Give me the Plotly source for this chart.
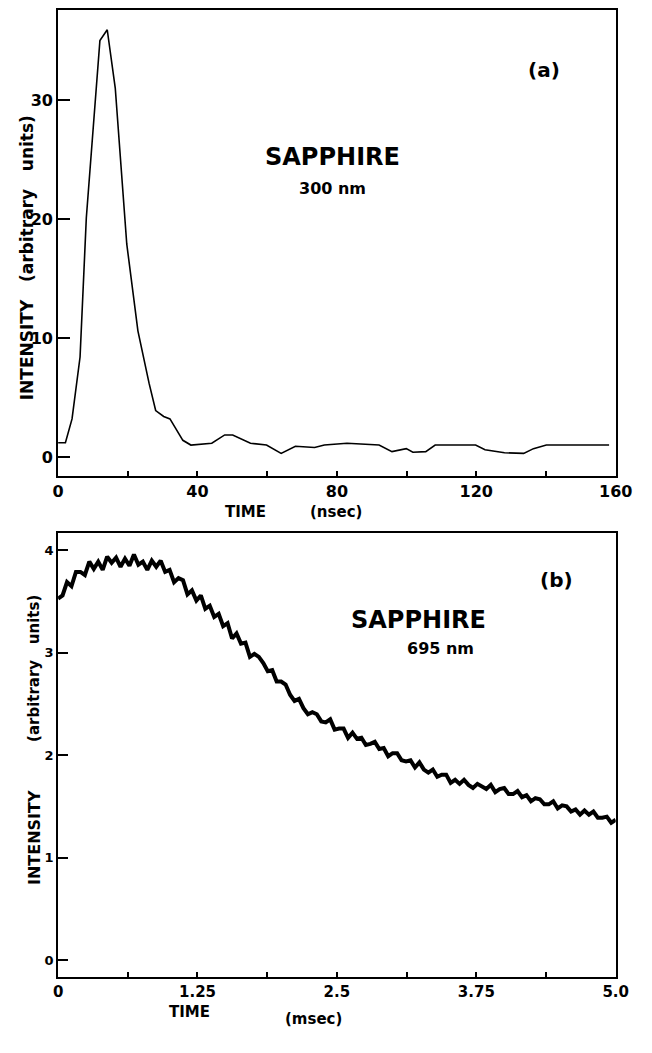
import plotly.graph_objects as go

# ---------------- data: panel (a) ----------------
time_ns = [0, 2.1, 4.0, 6.3, 8.1, 10.0, 12.0, 14.1, 16.4, 19.7, 21.5, 22.9, 26.1, 28.0,
           30.3, 32.1, 35.8, 38.1, 44.1, 47.8, 50.1, 55.2, 59.8, 64.0, 68.1, 73.6, 76.4,
           82.9, 92.1, 95.8, 99.9, 101.8, 105.5, 108.2, 119.8, 122.5, 128.1, 133.6,
           136.4, 140.1, 158.1]
intensity_a = [1.2, 1.2, 3.2, 8.4, 20.1, 27.1, 35.0, 35.9, 31.0, 17.9, 14.0, 10.6, 6.2, 3.9,
               3.4, 3.2, 1.4, 1.0, 1.15, 1.85, 1.85, 1.15, 1.0, 0.3, 0.9, 0.8, 1.0,
               1.15, 1.0, 0.45, 0.7, 0.4, 0.45, 1.0, 1.0, 0.6, 0.35, 0.3,
               0.7, 1.0, 1.0]

# ---------------- data: panel (b) ----------------
time_ms = [0.00, 0.04, 0.08, 0.12, 0.16, 0.20, 0.24, 0.28, 0.32, 0.36,
           0.40, 0.44, 0.48, 0.52, 0.56, 0.60, 0.64, 0.68, 0.72, 0.76,
           0.80, 0.84, 0.88, 0.92, 0.96, 1.00, 1.04, 1.08, 1.12, 1.16,
           1.20, 1.24, 1.28, 1.32, 1.36, 1.40, 1.44, 1.48, 1.52, 1.56,
           1.60, 1.64, 1.68, 1.72, 1.76, 1.80, 1.84, 1.88, 1.92, 1.96,
           2.00, 2.04, 2.08, 2.12, 2.16, 2.20, 2.24, 2.28, 2.32, 2.36,
           2.40, 2.44, 2.48, 2.52, 2.56, 2.60, 2.64, 2.68, 2.72, 2.76,
           2.80, 2.84, 2.88, 2.92, 2.96, 3.00, 3.04, 3.08, 3.12, 3.16,
           3.20, 3.24, 3.28, 3.32, 3.36, 3.40, 3.44, 3.48, 3.52, 3.56,
           3.60, 3.64, 3.68, 3.72, 3.76, 3.80, 3.84, 3.88, 3.92, 3.96,
           4.00, 4.04, 4.08, 4.12, 4.16, 4.20, 4.24, 4.28, 4.32, 4.36,
           4.40, 4.44, 4.48, 4.52, 4.56, 4.60, 4.64, 4.68, 4.72, 4.76,
           4.80, 4.84, 4.88, 4.92, 4.96, 5.00]
intensity_b = [3.53, 3.56, 3.69, 3.65, 3.79, 3.79, 3.76, 3.89, 3.82, 3.89,
               3.81, 3.94, 3.88, 3.93, 3.84, 3.92, 3.85, 3.96, 3.86, 3.89,
               3.81, 3.90, 3.84, 3.90, 3.79, 3.81, 3.69, 3.73, 3.71, 3.57,
               3.61, 3.51, 3.56, 3.43, 3.46, 3.35, 3.38, 3.26, 3.29, 3.14,
               3.19, 3.09, 3.10, 2.96, 2.99, 2.96, 2.90, 2.82, 2.83, 2.72,
               2.72, 2.69, 2.59, 2.53, 2.55, 2.46, 2.40, 2.42, 2.40, 2.33,
               2.32, 2.35, 2.25, 2.26, 2.26, 2.17, 2.22, 2.16, 2.17, 2.10,
               2.11, 2.13, 2.06, 2.07, 1.99, 2.02, 2.02, 1.95, 1.94, 1.95,
               1.88, 1.93, 1.86, 1.83, 1.86, 1.79, 1.81, 1.81, 1.73, 1.76,
               1.72, 1.76, 1.71, 1.68, 1.72, 1.70, 1.67, 1.71, 1.64, 1.67,
               1.68, 1.62, 1.62, 1.65, 1.59, 1.61, 1.55, 1.58, 1.57, 1.52,
               1.52, 1.55, 1.48, 1.51, 1.50, 1.45, 1.47, 1.42, 1.46, 1.42,
               1.45, 1.39, 1.39, 1.40, 1.34, 1.37]

# tick definitions
xa_tickvals = [0, 20, 40, 60, 80, 100, 120, 140, 160]
xa_ticktext = ["0", "", "40", "", "80", "", "120", "", "160"]
ya_tickvals = [0, 10, 20, 30]
xb_tickvals = [0, 0.625, 1.25, 1.875, 2.5, 3.125, 3.75, 4.375, 5.0]
xb_ticktext = ["0", "", "1.25", "", "2.5", "", "3.75", "", "5.0"]
yb_tickvals = [0, 1, 2, 3, 4]

W, H = 652, 1053
FONT = "DejaVu Sans"


def px(x):
    return x / W


def py(y):
    return 1 - y / H


fig = go.Figure()
fig.add_trace(go.Scatter(x=time_ns, y=intensity_a, mode="lines",
                         line=dict(color="black", width=1.6),
                         xaxis="x", yaxis="y", showlegend=False))
fig.add_trace(go.Scatter(x=time_ms, y=intensity_b, mode="lines",
                         line=dict(color="black", width=4),
                         xaxis="x2", yaxis="y2", showlegend=False))

axis_common = dict(showline=True, linecolor="black", linewidth=2, mirror=True,
                   showgrid=False, zeroline=False, ticks="inside",
                   tickcolor="black", tickwidth=2)

fig.update_layout(
    width=W, height=H,
    margin=dict(l=0, r=0, t=0, b=0),
    paper_bgcolor="white", plot_bgcolor="white",
    xaxis=dict(domain=[px(54), px(632)], range=[0, 160], anchor="y",
               tickvals=xa_tickvals, ticktext=xa_ticktext, ticklen=5,
               tickfont=dict(family=FONT, size=16, color="black", weight="bold"),
               **axis_common),
    yaxis=dict(domain=[py(476), py(10)], range=[-1.6, 37.56], anchor="x",
               tickvals=ya_tickvals, ticklen=12,
               tickfont=dict(family=FONT, size=16, color="black", weight="bold"),
               **axis_common),
    xaxis2=dict(domain=[px(54), px(632)], range=[0, 5], anchor="y2",
                tickvals=xb_tickvals, ticktext=xb_ticktext, ticklen=5,
                tickfont=dict(family=FONT, size=15, color="black", weight="bold"),
                **axis_common),
    yaxis2=dict(domain=[py(977), py(533)], range=[-0.166, 4.17], anchor="x2",
                tickvals=yb_tickvals, ticklen=10,
                tickfont=dict(family=FONT, size=13, color="black", weight="bold"),
                **axis_common),
)


def note(text, x, y, size, angle=0):
    fig.add_annotation(text=text, x=px(x), y=py(y), xref="paper", yref="paper",
                       showarrow=False, textangle=angle,
                       xanchor="center", yanchor="middle",
                       font=dict(family=FONT, size=size, color="black", weight="bold"))


NB = "\u00a0"
# panel (a) texts
note("(a)", 558, 70, 20)
note("SAPPHIRE", 338, 157, 24)
note("300 nm", 338, 188, 16)
note("TIME", 248, 512, 15)
note("(nsec)", 342, 512, 15)
note("INTENSITY" + NB * 3 + "(arbitrary" + NB * 3 + "units)", 22, 258, 17, -90)

# panel (b) texts
note("(b)", 571, 580, 20)
note("SAPPHIRE", 428, 620, 24)
note("695 nm", 450, 648, 16)
note("TIME", 190, 1012, 15)
note("(msec)", 319, 1019, 15)
note("INTENSITY", 29, 837, 16, -90)
note("(arbitrary" + NB * 3 + "units)", 29, 668, 15, -90)

fig.write_html("out.html")
